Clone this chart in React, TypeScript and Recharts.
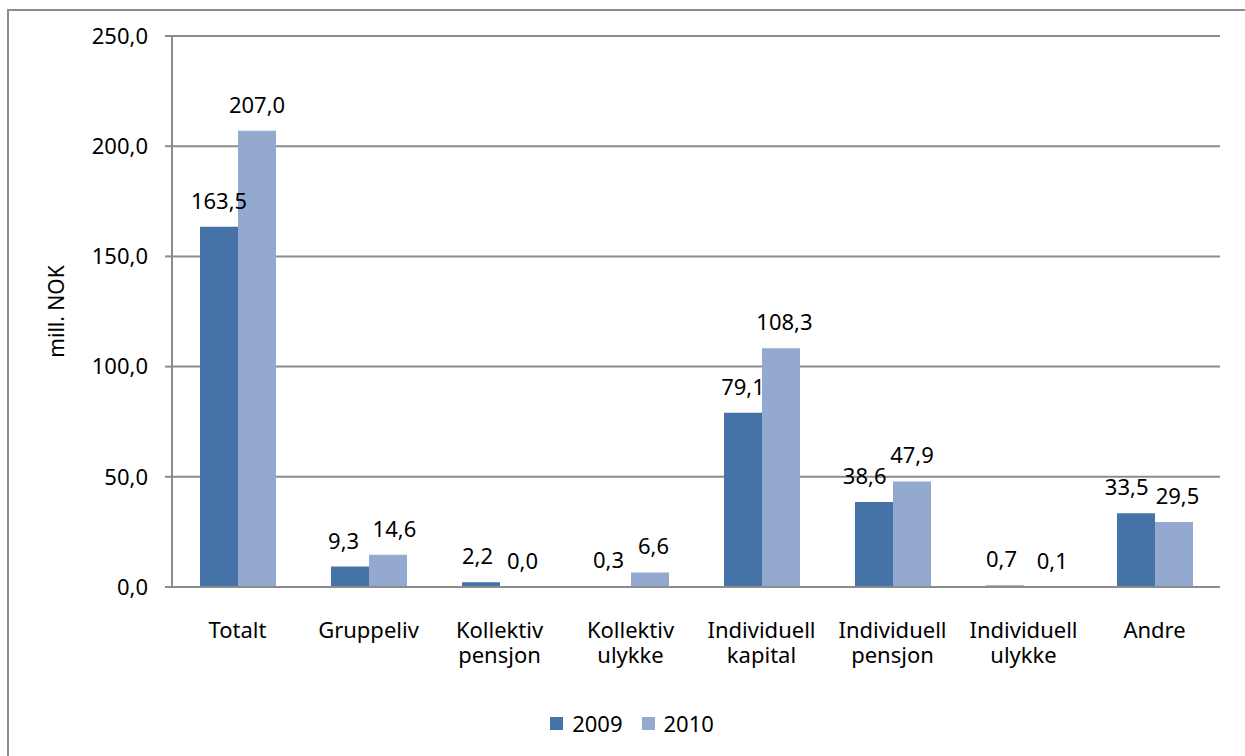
import React from "react";
import {
  BarChart,
  Bar,
  XAxis,
  YAxis,
  CartesianGrid,
  Legend,
  LabelList,
} from "recharts";

const categories = [
  "Totalt",
  "Gruppeliv",
  "Kollektiv pensjon",
  "Kollektiv ulykke",
  "Individuell kapital",
  "Individuell pensjon",
  "Individuell ulykke",
  "Andre",
];
const values2009 = [163.5, 9.3, 2.2, 0.3, 79.1, 38.6, 0.7, 33.5];
const values2010 = [207.0, 14.6, 0.0, 6.6, 108.3, 47.9, 0.1, 29.5];
const yTicks = [0, 50, 100, 150, 200, 250];

const data = categories.map((name, i) => ({
  name,
  y2009: values2009[i],
  y2010: values2010[i],
}));

const FONT = "'Noto Sans', sans-serif";
const FS = 22;
const C2009 = "#4572a7";
const C2010 = "#93a9cf";
const PLOT_H = 551;
const fmt = (v: any) => Number(v).toFixed(1).replace(".", ",");
const textW = (s: string) => s.length * 0.53 * FS;

const CategoryTick = (props: any) => {
  const { x, y, payload } = props;
  const lines = String(payload.value).split(" ");
  return (
    <text
      x={x}
      y={y}
      textAnchor="middle"
      fill="#000"
      fontSize={FS}
      fontFamily={FONT}
    >
      {lines.map((line, i) => (
        <tspan key={i} x={x} dy={i === 0 ? 43 : 25}>
          {line}
        </tspan>
      ))}
    </text>
  );
};

// how far the two labels of a category must move apart so they don't collide
const labelNudge = (index: number, barW: number) => {
  const a = fmt(values2009[index]);
  const b = fmt(values2010[index]);
  const dy = (Math.abs(values2009[index] - values2010[index]) * PLOT_H) / 250;
  if (dy >= FS) return 0;
  const overlap = (textW(a) + textW(b)) / 2 - barW + 10;
  return overlap > 0 ? overlap / 2 : 0;
};

const ValueText = ({ x, y, value }: any) => (
  <text x={x} y={y} textAnchor="middle" fill="#000" fontSize={FS} fontFamily={FONT}>
    {fmt(value)}
  </text>
);

const Label2009 = (props: any) => {
  const { x, y, width, height, index, value } = props;
  const w = Number(width);
  const n = labelNudge(index, w);
  const zero2010 = values2010[index] === 0;
  return (
    <g>
      <ValueText x={Number(x) + w / 2 - n} y={Number(y) - 18} value={value} />
      {zero2010 && (
        <ValueText
          x={Number(x) + w * 1.5 + n}
          y={Number(y) + Number(height) - 18}
          value={values2010[index]}
        />
      )}
    </g>
  );
};

const Label2010 = (props: any) => {
  const { x, y, width, index, value } = props;
  const w = Number(width);
  const n = labelNudge(index, w);
  return <ValueText x={Number(x) + w / 2 + n} y={Number(y) - 18} value={value} />;
};

const LegendContent = () => (
  <div
    style={{
      display: "flex",
      justifyContent: "center",
      alignItems: "center",
      fontFamily: FONT,
      fontSize: FS,
      color: "#000",
      lineHeight: "26px",
    }}
  >
    {[
      { name: "2009", color: C2009 },
      { name: "2010", color: C2010 },
    ].map((item, i) => (
      <span
        key={item.name}
        style={{ display: "flex", alignItems: "center", marginLeft: i ? 19 : 0 }}
      >
        <span
          style={{
            display: "inline-block",
            width: 13,
            height: 13,
            background: item.color,
            marginRight: 9,
          }}
        />
        {item.name}
      </span>
    ))}
  </div>
);

export default function App() {
  return (
    <div
      style={{
        position: "absolute",
        left: 0,
        top: 0,
        width: 1245,
        height: 756,
        overflow: "hidden",
        background: "#fff",
      }}
    >
      <div
        style={{
          position: "absolute",
          left: 7,
          top: 9,
          width: 1260,
          height: 770,
          border: "2px solid #8c8c8c",
        }}
      />
      <div style={{ position: "absolute", left: 0, top: 0 }}>
        <BarChart
          width={1245}
          height={756}
          data={data}
          margin={{ top: 36, right: 25, left: 0, bottom: 20 }}
          barCategoryGap={28}
          barGap={0}
        >
          <CartesianGrid vertical={false} stroke="#8c8c8c" strokeWidth={2} />
          <XAxis
            dataKey="name"
            interval={0}
            tick={<CategoryTick />}
            tickLine={false}
            axisLine={{ stroke: "#8c8c8c", strokeWidth: 2 }}
            height={123}
          />
          <YAxis
            domain={[0, 250]}
            ticks={yTicks}
            tickFormatter={fmt}
            width={172}
            tickSize={7}
            tickMargin={17}
            tick={{ fill: "#000", fontSize: FS, fontFamily: FONT }}
            axisLine={{ stroke: "#8c8c8c", strokeWidth: 2 }}
            tickLine={{ stroke: "#8c8c8c", strokeWidth: 2 }}
            label={{
              value: "mill. NOK",
              angle: -90,
              position: "insideLeft",
              offset: 57,
              style: { fill: "#000", fontSize: 21, fontFamily: FONT, textAnchor: "middle" },
            }}
          />
          <Legend
            verticalAlign="bottom"
            align="center"
            content={<LegendContent />}
            wrapperStyle={{ paddingLeft: 22 }}
          />
          <Bar dataKey="y2009" name="2009" fill={C2009} isAnimationActive={false}>
            <LabelList dataKey="y2009" content={<Label2009 />} />
          </Bar>
          <Bar dataKey="y2010" name="2010" fill={C2010} isAnimationActive={false}>
            <LabelList dataKey="y2010" content={<Label2010 />} />
          </Bar>
        </BarChart>
      </div>
    </div>
  );
}
